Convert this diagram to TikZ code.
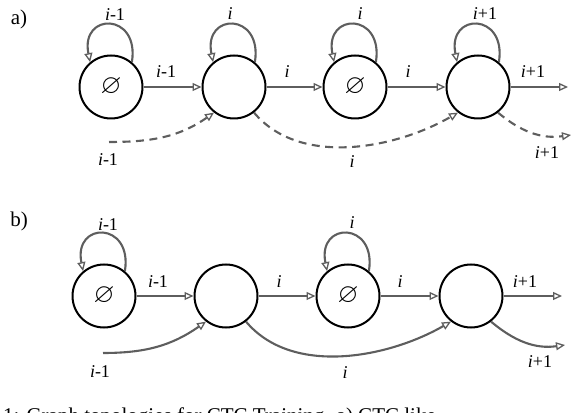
\documentclass[tikz,border=0pt]{standalone}
\usepackage{amssymb}
\usepackage{fontspec}
\setmainfont{Liberation Serif}
\usetikzlibrary{arrows.meta}
\definecolor{edgegray}{HTML}{5E5E5E}
\tikzset{
  state/.style={circle,draw=black,line width=2pt,minimum size=63pt,inner sep=0pt,fill=white},
  emptystate/.style={state,font=\fontsize{27}{27}\selectfont},
  edge/.style={draw=edgegray,line width=2.1pt,-{Triangle[open,length=9pt,width=8pt,line width=1.3pt]}},
  dashededge/.style={edge,dash pattern=on 8pt off 5.5pt},
  lbl/.style={font=\fontsize{18}{18}\selectfont,inner sep=0pt},
  panel/.style={font=\fontsize{21}{21}\selectfont,inner sep=0pt}
}
\newcommand{\lab}[1]{\textit{i}#1}
\begin{document}
\begin{tikzpicture}[x=1pt,y=1pt]
\useasboundingbox (0,0) rectangle (588,412);
\begin{scope}
\clip (0,0) rectangle (588,412);
% ---------- panel a ----------
\node[panel] (pa) at (19,393) {a)};
\node[emptystate] (a1) at (111,325) {$\varnothing$};
\node[state] (a2) at (234,325) {};
\node[emptystate] (a3) at (355,325) {$\varnothing$};
\node[state] (a4) at (478,325) {};
\coordinate (aout) at (568,325);
\coordinate (ain) at (109,270);
\coordinate (aout2) at (571,277);

\draw[edge] (a1.50) .. controls +(8,50) and +(-10,50) .. (a1.130);
\draw[edge] (a2.50) .. controls +(8,50) and +(-10,50) .. (a2.130);
\draw[edge] (a3.50) .. controls +(8,50) and +(-10,50) .. (a3.130);
\draw[edge] (a4.50) .. controls +(8,50) and +(-10,50) .. (a4.130);
\node[lbl] (la1) at (115,397) {\lab{-1}};
\node[lbl] (la2) at (230,398) {\lab{}};
\node[lbl] (la3) at (360,398) {\lab{}};
\node[lbl] (la4) at (485,398) {\lab{+1}};

\draw[edge] (a1) -- (a2);
\draw[edge] (a2) -- (a3);
\draw[edge] (a3) -- (a4);
\draw[edge] (a4) -- (aout);
\node[lbl] (ea1) at (166,340) {\lab{-1}};
\node[lbl] (ea2) at (287,340) {\lab{}};
\node[lbl] (ea3) at (408,340) {\lab{}};
\node[lbl] (ea4) at (533,340) {\lab{+1}};

\draw[dashededge] (ain) to[out=0,in=215] (a2.232);
\draw[dashededge] (a2.-52) to[out=-50,in=-150,looseness=0.9] (a4.-128);
\draw[dashededge] (a4.-52) to[out=-40,in=188] (aout2);
\node[lbl] (da1) at (108,252) {\lab{-1}};
\node[lbl] (da2) at (352,250) {\lab{}};
\node[lbl] (da3) at (547,259) {\lab{+1}};

% ---------- panel b ----------
\node[panel] (pb) at (19,191) {b)};
\node[emptystate] (b1) at (104,116) {$\varnothing$};
\node[state] (b2) at (226,116) {};
\node[emptystate] (b3) at (348,116) {$\varnothing$};
\node[state] (b4) at (471,116) {};
\coordinate (bout) at (562,116);
\coordinate (bin) at (103,59);
\coordinate (bout2) at (565,67);

\draw[edge] (b1.50) .. controls +(8,50) and +(-10,50) .. (b1.130);
\draw[edge] (b3.50) .. controls +(8,50) and +(-10,50) .. (b3.130);
\node[lbl] (lb1) at (108,187) {\lab{-1}};
\node[lbl] (lb3) at (352,189) {\lab{}};

\draw[edge] (b1) -- (b2);
\draw[edge] (b2) -- (b3);
\draw[edge] (b3) -- (b4);
\draw[edge] (b4) -- (bout);
\node[lbl] (eb1) at (158,130) {\lab{-1}};
\node[lbl] (eb2) at (279,130) {\lab{}};
\node[lbl] (eb3) at (400,130) {\lab{}};
\node[lbl] (eb4) at (525,130) {\lab{+1}};

\draw[edge] (bin) to[out=0,in=215] (b2.232);
\draw[edge] (b2.-52) to[out=-50,in=-150,looseness=0.9] (b4.-128);
\draw[edge] (b4.-52) to[out=-40,in=188] (bout2);
\node[lbl] (sb1) at (100,40) {\lab{-1}};
\node[lbl] (sb2) at (345,39) {\lab{}};
\node[lbl] (sb3) at (540,50) {\lab{+1}};

% ---------- caption (cut off) ----------
\node[anchor=base west,inner sep=0pt,font=\fontsize{21}{21}\selectfont] (cap) at (3,-10) {1: Graph topologies for CTC Training. a) CTC like};
\end{scope}
\end{tikzpicture}
\end{document}
